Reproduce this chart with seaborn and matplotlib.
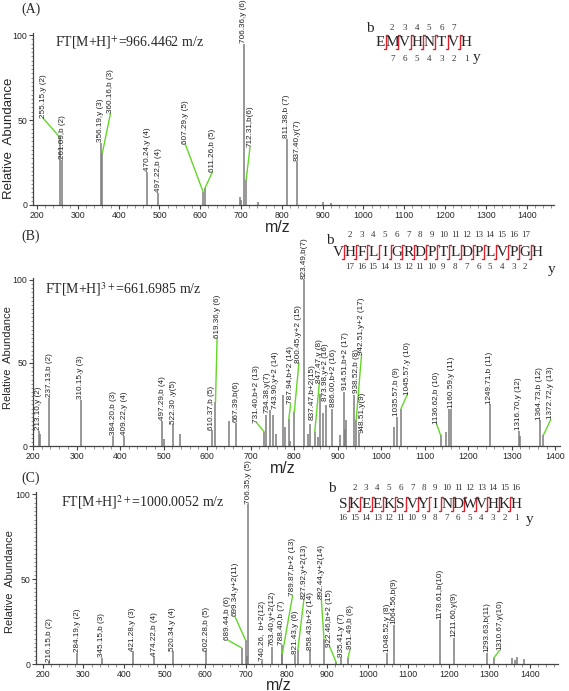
import numpy as np
import matplotlib
matplotlib.use("Agg")
import matplotlib.pyplot as plt
from matplotlib.ticker import MultipleLocator
import seaborn as sns

# ---------------- data ----------------
# panel A : EMVHNTVH
A_mz = [255.15, 261.09, 356.19, 360.16, 470.24, 497.22, 607.29, 611.26, 697.0, 700.5,
        706.36, 712.31, 741.0, 811.38, 837.40, 902.0, 921.0]
A_int = [40.0, 26.5, 36.7, 30.8, 19.6, 7.3, 7.5, 9.8, 5.0, 3.0,
         95.0, 14.7, 2.0, 39.0, 25.5, 1.5, 1.0]
A_labels = ["255.15,y (2)", "261.09,b (2)", "356.19,y (3)", "360.16,b (3)", "470.24,y (4)",
            "497.22,b (4)", "607.29,y (5)", "611.26,b (5)", "706.36,y (6)", "712.31,b(6)",
            "811.38,b (7)", "837.40,y(7)"]
A_title = "FT[M+H]$^{+}$=966.4462 m/z"
A_seq = "EMVHNTVH"
A_bnum = ["2", "3", "4", "5", "6", "7"]
A_ynum = ["7", "6", "5", "4", "3", "2", "1"]

# panel B : VHFLIGRDPTLDPLVPGH
B_mz = [213.10, 215.5, 237.13, 310.15, 384.20, 409.22, 497.29, 500.5, 522.30, 538.0,
        610.37, 619.36, 650.0, 667.39, 731.40, 734.38, 743.90, 752.0, 758.0, 775.0,
        778.0, 787.94, 790.5, 800.45, 823.49, 833.0, 837.47, 847.47, 855.0, 860.0,
        866.0, 873.98, 886.00, 905.0, 914.51, 916.5, 920.0, 938.52, 942.51, 948.51,
        1030.0, 1035.57, 1045.57, 1136.62, 1150.0, 1155.0, 1160.59, 1249.71, 1316.70, 1318.5,
        1364.73, 1372.72]
B_int = [9.0, 7.5, 29.0, 28.0, 6.0, 6.0, 15.0, 4.5, 13.0, 7.5,
         9.5, 26.5, 15.0, 14.0, 8.5, 18.5, 21.5, 18.5, 7.5, 31.0,
         11.5, 16.5, 3.0, 20.5, 100.0, 7.5, 13.5, 8.5, 5.5, 31.5,
         20.0, 24.5, 22.5, 6.5, 32.5, 10.5, 15.5, 30.5, 15.5, 7.0,
         11.5, 17.5, 22.5, 6.5, 8.5, 22.5, 22.5, 25.0, 9.0, 6.0,
         15.5, 6.5]
B_labels = ["213.10,y (2)", "237.13,b (2)", "310.15,y (3)", "384.20,b (3)", "409.22,y (4)",
            "497.29,b (4)", "522.30 ,y(5)", "610.37,b (5)", "619.36,y (6)", "667.39,b(6)",
            "731.40,b+2 (13)", "734.38,y(7)", "743.90,y+2 (14)", "787.94,b+2 (14)",
            "800.45,y+2 (15)", "823.49,b(7)", "837.47,b+2(15)", "847.47,y (8)",
            "873.98,y+2 (16)", "886.00,b+2 (16)", "914.51,b+2 (17)", "938.52,b (8)",
            "942.51,y+2 (17)", "948.51,y(9)", "1035.57,b (9)", "1045.57,y (10)",
            "1136.62,b (10)", "1160.59,y (11)", "1249.71,b (11)", "1316.70,y (12)",
            "1364.73,b (12)", "1372.72,y (13)"]
B_title = "FT[M+H]$^{3+}$=661.6985 m/z"
B_seq = "VHFLIGRDPTLDPLVPGH"
B_bnum = [str(i) for i in range(2, 18)]
B_ynum = [str(i) for i in range(17, 1, -1)]

# panel C : SKEEKSVYINDWVHKH
C_mz = [216.15, 284.19, 345.15, 421.28, 474.22, 520.34, 602.28, 689.44, 699.34, 703.0,
        706.35, 740.26, 763.40, 788.40, 789.87, 821.43, 827.92, 858.43, 892.44, 922.46,
        935.41, 951.49, 1048.52, 1064.56, 1178.61, 1211.60, 1293.63, 1310.67, 1355.0, 1362.0,
        1368.0, 1385.0]
C_int = [1.0, 6.5, 3.5, 7.5, 4.5, 7.5, 7.5, 9.5, 14.0, 5.0,
         94.0, 1.5, 10.0, 11.0, 6.0, 5.3, 8.0, 8.0, 15.0, 1.0,
         4.0, 3.5, 6.5, 23.0, 26.0, 15.5, 6.5, 3.5, 3.5, 2.5,
         4.0, 3.0]
C_labels = ["216.15,b (2)", "284.19,y (2)", "345.15,b (3)", "421.28,y (3)", "474.22,b (4)",
            "520.34,y (4)", "602.28,b (5)", "689.44,b (6)", "699.34,y+2(11)", "706.35,y (5)",
            "740.26,  b+2(12)", "763.40,y+2(12)", "788.40,b (7)", "789.87,b+2 (13)",
            "821.43,y (6)", "827.92,y+2(13)", "858.43,b+2 (14)", "892.44,y+2(14)",
            "922.46,b+2 (15)", "935.41,y (7)", "951.49,b (8)", "1048.52,y (8)",
            "1064.56,b(9)", "1178.61,b(10)", "1211.60,y(9)", "1293.63,b(11)", "1310.67,y(10)"]
C_title = "FT[M+H]$^{2+}$=1000.0052 m/z"
C_seq = "SKEEKSVYINDWVHKH"
C_bnum = [str(i) for i in range(2, 17)]
C_ynum = [str(i) for i in range(16, 0, -1)]

# ---------------- layout ----------------
# labels moved away from their peak and joined back with a green leader: text -> (x, y)
A_moved = {"255.15,y (2)": (215, 51), "360.16,b (3)": (380, 54), "607.29,y (5)": (563, 36),
           "611.26,b (5)": (630, 19.6), "712.31,b(6)": (722, 34)}
B_moved = {"619.36,y (6)": (623, 65), "731.40,b+2 (13)": (714, 14), "787.94,b+2 (14)": (792, 25),
           "800.45,y+2 (15)": (811, 50), "847.47,y (8)": (858, 38), "942.51,y+2 (17)": (955, 55),
           "1045.57,y (10)": (1060, 31), "1136.62,b (10)": (1127, 13.5),
           "1372.72,y (13)": (1390, 16)}
C_moved = {"689.44,b (6)": (656, 14), "699.34,y+2(11)": (673, 28), "789.87,b+2 (13)": (815, 40),
           "827.92,y+2(13)": (843, 38), "892.44,y+2(14)": (886, 38), "922.46,b+2 (15)": (907, 10),
           "951.49,b (8)": (957, 9), "1310.67,y(10)": (1325, 8)}
# labels nudged off their peak without a leader
B_nudged = {"734.38,y(7)": (737, 20), "743.90,y+2 (14)": (757, 22), "837.47,b+2(15)": (841, 15.5),
            "873.98,y+2 (16)": (871, 27), "886.00,b+2 (16)": (890, 23.5),
            "914.51,b+2 (17)": (917, 34), "938.52,b (8)": (944, 32), "948.51,y(9)": (957, 8)}

W, H = 569, 691
sns.set_style("ticks")
plt.rcParams["mathtext.fontset"] = "stix"
SERIF = ["Liberation Serif", "DejaVu Serif"]
SANS = ["Liberation Sans", "DejaVu Sans"]
NARROW = ["Liberation Sans Narrow", "Liberation Sans", "DejaVu Sans"]
GREEN = "#63d628"
RED = "#e0202a"
BAR = "#7c7c7c"

fig = plt.figure(figsize=(W / 100, H / 100), dpi=100)


def add_panel(left, right, top, bottom, xlim):
    ax = fig.add_axes([left / W, 1 - bottom / H, (right - left) / W, (bottom - top) / H])
    ax.set_xlim(*xlim)
    ax.set_ylim(0, 101.2)
    ax.xaxis.set_major_locator(MultipleLocator(100))
    ax.xaxis.set_minor_locator(MultipleLocator(20))
    ax.yaxis.set_major_locator(MultipleLocator(50))
    ax.yaxis.set_minor_locator(MultipleLocator(2.5))
    ax.tick_params(which="major", length=3, width=0.8, color="#444", labelsize=6.3, pad=1.2)
    ax.tick_params(which="minor", length=1.8, width=0.5, color="#666")
    for lab in ax.get_xticklabels() + ax.get_yticklabels():
        lab.set_family(SANS)
    sns.despine(ax=ax)
    for s in ("left", "bottom"):
        ax.spines[s].set_color("#444")
        ax.spines[s].set_linewidth(0.9)
    return ax


def draw_spectrum(ax, mz, inten, labels, moved, nudged=None):
    nudged = nudged or {}
    ax.vlines(mz, 0, inten, color=BAR, lw=1.1)
    heights = dict(zip(mz, inten))
    for t in labels:
        pmz = float(t.split(",")[0])
        ph = heights[min(heights, key=lambda m: abs(m - pmz))]
        if t in moved:
            x, y = moved[t]
            ax.plot([x, pmz], [y, ph], color=GREEN, lw=1.0, clip_on=False)
        elif t in nudged:
            x, y = nudged[t]
        else:
            x, y = pmz, ph + 0.4
        ax.text(x, y, t, rotation=90, ha="center", va="bottom", fontsize=5.9,
                family=NARROW, color="#222", clip_on=False)


ov = fig.add_axes([0, 0, 1, 1], zorder=5)
ov.set_xlim(0, W)
ov.set_ylim(H, 0)
ov.axis("off")


def draw_sequence(seq, bnum, ynum, x0, x1, yl, ytop, ybot, bpos, ypos, yoff):
    xs = np.linspace(x0, x1, len(seq))
    step = xs[1] - xs[0]
    for x, ch in zip(xs, seq):
        ov.text(x, yl, ch, ha="center", va="center", fontsize=11, family=SERIF)
    for i, n in enumerate(bnum):
        ov.text(xs[i + 1], ytop, n, ha="center", va="center", fontsize=6.5, family=SERIF, color="#333")
    for i, n in enumerate(ynum):
        ov.text(xs[i + yoff], ybot, n, ha="center", va="center", fontsize=6.5, family=SERIF, color="#333")
    for xa in (xs[:-1] + step / 2):
        ov.plot([xa + 2.0, xa, xa, xa - 2.0], [yl - 7, yl - 7, yl + 7, yl + 7], color=RED, lw=1.0)
    ov.text(bpos[0], bpos[1], "b", ha="center", va="center", fontsize=11, family=SERIF)
    ov.text(ypos[0], ypos[1], "y", ha="center", va="center", fontsize=11, family=SERIF)


# ---- panel A
axA = add_panel(33, 554, 33, 205, (190, 1467))
draw_spectrum(axA, A_mz, A_int, A_labels, A_moved)
# ---- panel B
axB = add_panel(33, 560, 278, 446, (200, 1411))
draw_spectrum(axB, B_mz, B_int, B_labels, B_moved, B_nudged)
# ---- panel C
axC = add_panel(36, 558, 492, 664, (183, 1469))
draw_spectrum(axC, C_mz, C_int, C_labels, C_moved)

# panel texts
for tag, ty in (("(A)", 9), ("(B)", 236), ("(C)", 478)):
    ov.text(21, ty, tag, ha="left", va="center", fontsize=10, family=SERIF)
ov.text(55, 43, A_title, ha="left", va="center", fontsize=10, family=SERIF)
ov.text(45, 289, B_title, ha="left", va="center", fontsize=10, family=SERIF)
ov.text(61, 502, C_title, ha="left", va="center", fontsize=10, family=SERIF)
for xy, fs in (((9, 138), 9.5), ((8, 358), 8), ((10, 582), 8)):
    ov.text(xy[0], xy[1], "Relative  Abundance", rotation=90, ha="center", va="center",
            fontsize=fs, family=SANS)
for xy in ((278, 227), (283, 468), (279, 685)):
    ov.text(xy[0], xy[1], "m/z", ha="center", va="center", fontsize=11.5, family=SANS)

draw_sequence(A_seq, A_bnum, A_ynum, 380, 466, 42, 28, 59, (370, 28), (477, 57), 1)
draw_sequence(B_seq, B_bnum, B_ynum, 338, 537, 252, 235, 267, (330, 240), (552, 269), 1)
draw_sequence(C_seq, C_bnum, C_ynum, 343, 516, 504, 488, 518, (332, 488), (530, 520), 0)

fig.savefig("out.png", dpi=100)
